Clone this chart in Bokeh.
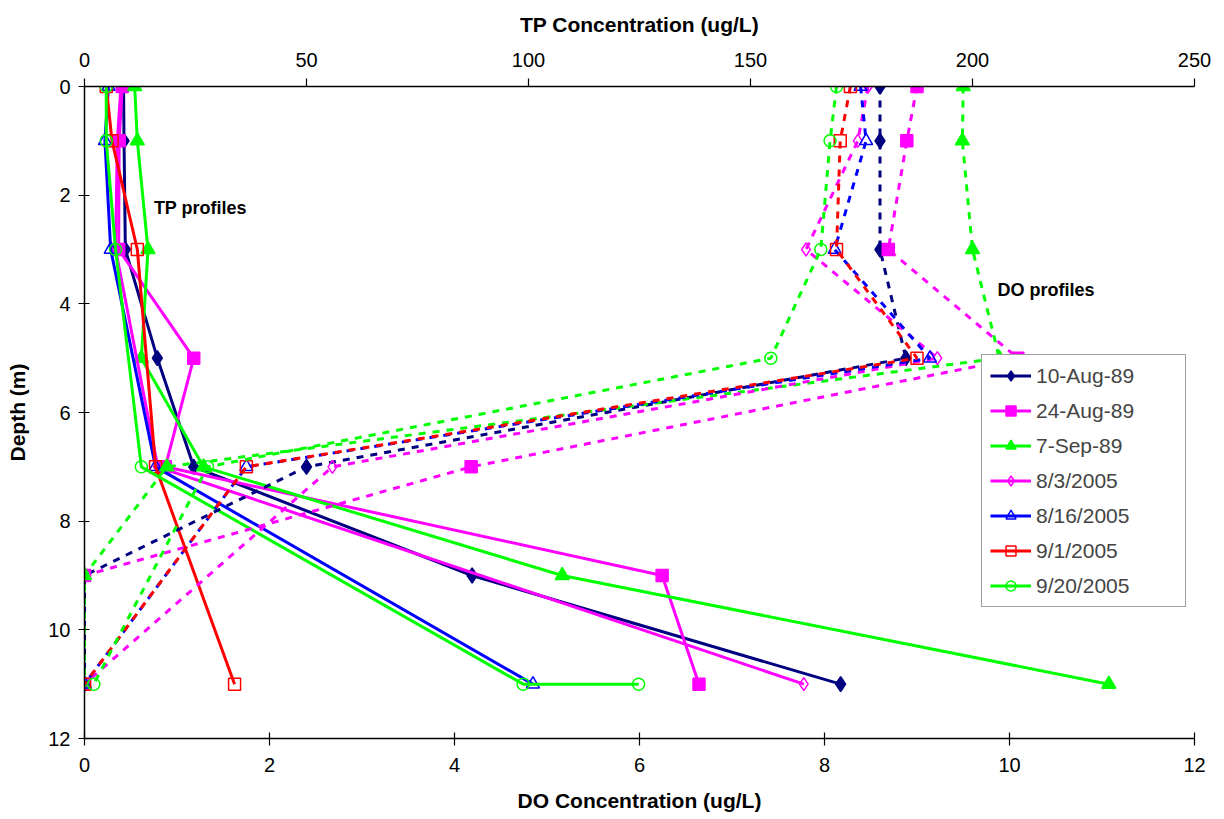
from bokeh.plotting import figure
from bokeh.models import Range1d, LinearAxis, FixedTicker, Label, Legend, LegendItem
from bokeh.embed import file_html
from bokeh.resources import INLINE

# ---------------- data ----------------
series_names = ["10-Aug-89", "24-Aug-89", "7-Sep-89", "8/3/2005", "8/16/2005", "9/1/2005", "9/20/2005"]

# TP profiles (top axis, ug/L)
tp_depth_1989 = [0, 1, 3, 5, 7, 9, 11]
tp_10aug89 = [8.8, 8.9, 9.2, 16.4, 24.6, 87.3, 170.3]
tp_24aug89 = [8.5, 7.8, 7.7, 24.6, 18.2, 130.1, 138.4]
tp_7sep89 = [11.3, 11.9, 14.3, 12.8, 26.8, 107.6, 230.7]
tp_depth_2005 = [0, 1, 3, 7, 11]
tp_8mar05 = [8.2, 7.4, 7.0, 16.5, 162.0]
tp_16aug05 = [5.4, 4.6, 5.9, 16.0, 101.0]
tp_1sep05 = [4.9, 6.2, 11.9, 16.0, 33.8]
tp_depth_20sep05 = [0, 1, 3, 7, 11, 11]
tp_20sep05 = [4.9, 4.9, 7.0, 12.8, 98.8, 124.8]

# DO profiles (bottom axis)
do_depth_1989 = [0, 1, 3, 5, 7, 9, 11]
do_10aug89 = [8.6, 8.6, 8.6, 8.88, 2.4, 0, 0]
do_24aug89 = [9.0, 8.89, 8.69, 10.09, 4.18, 0, 0]
do_7sep89 = [9.5, 9.49, 9.6, 9.89, 0.89, 0, 0]
do_depth_2005 = [0, 1, 3, 5, 7, 11]
do_8mar05 = [8.47, 8.36, 7.8, 9.22, 2.68, 0]
do_16aug05 = [8.39, 8.45, 8.11, 9.14, 1.75, 0]
do_1sep05 = [8.28, 8.17, 8.13, 9.0, 1.75, 0]
do_20sep05 = [8.13, 8.06, 7.96, 7.42, 1.33, 0.1]

do_ticks = [0, 2, 4, 6, 8, 10, 12]
tp_ticks = [0, 50, 100, 150, 200, 250]
depth_ticks = [0, 2, 4, 6, 8, 10, 12]

# ---------------- styles ----------------
FONT = "Liberation Sans"
styles = [
    dict(color="#000080", marker="diamond", size=15, filled=True),
    dict(color="#FF00FF", marker="square", size=12, filled=True),
    dict(color="#00FF00", marker="triangle", size=14, filled=True),
    dict(color="#FF00FF", marker="diamond", size=13, filled=False),
    dict(color="#0000FF", marker="triangle", size=13, filled=False),
    dict(color="#FF0000", marker="square", size=12, filled=False),
    dict(color="#00FF00", marker="circle", size=12, filled=False),
]

tp_series = [
    (tp_depth_1989, tp_10aug89), (tp_depth_1989, tp_24aug89), (tp_depth_1989, tp_7sep89),
    (tp_depth_2005, tp_8mar05), (tp_depth_2005, tp_16aug05), (tp_depth_2005, tp_1sep05),
    (tp_depth_20sep05, tp_20sep05),
]
do_series = [
    (do_depth_1989, do_10aug89), (do_depth_1989, do_24aug89), (do_depth_1989, do_7sep89),
    (do_depth_2005, do_8mar05), (do_depth_2005, do_16aug05), (do_depth_2005, do_1sep05),
    (do_depth_2005, do_20sep05),
]

p = figure(width=1224, height=819, output_backend="svg", toolbar_location=None,
           x_range=Range1d(0, 12), y_range=Range1d(12, 0),
           min_border_left=84, min_border_right=30, min_border_top=86, min_border_bottom=81)
p.extra_x_ranges = {"tp": Range1d(0, 250)}
p.xgrid.visible = False
p.ygrid.visible = False
p.outline_line_color = None
p.background_fill_color = "white"


def marker(xr, xs, ys, st):
    kw = dict(marker=st["marker"], size=st["size"], line_color=st["color"], line_width=1.5)
    kw["fill_color"] = st["color"] if st["filled"] else None
    if xr:
        kw["x_range_name"] = xr
    return p.scatter(xs, ys, **kw)


items = []
for name, (dep, vals), st in zip(series_names, tp_series, styles):
    l = p.line(vals, dep, line_color=st["color"], line_width=3, x_range_name="tp")
    m = marker("tp", vals, dep, st)
    items.append(LegendItem(label=name, renderers=[l, m]))

for (dep, vals), st in zip(do_series, styles):
    p.line(vals, dep, line_color=st["color"], line_width=3, line_dash="7 7")
    marker(None, vals, dep, st)

# ---------------- axes ----------------
tick_font = "20px"
title_font = "21px"

bx = p.xaxis[0]
bx.ticker = FixedTicker(ticks=do_ticks)
bx.axis_label = "DO Concentration (ug/L)"
bx.major_tick_in = 6
bx.major_tick_out = 7
bx.minor_tick_line_color = None
bx.major_label_standoff = 12
bx.axis_label_standoff = 14

ly = p.yaxis[0]
ly.ticker = FixedTicker(ticks=depth_ticks)
ly.axis_label = "Depth (m)"
ly.major_tick_in = 5
ly.major_tick_out = 6
ly.minor_tick_line_color = None
ly.major_label_standoff = 8
ly.axis_label_standoff = 16

tx = LinearAxis(x_range_name="tp", ticker=FixedTicker(ticks=tp_ticks),
                axis_label="TP Concentration (ug/L)")
tx.major_tick_in = 0
tx.major_tick_out = 8
tx.minor_tick_line_color = None
tx.major_label_standoff = 12
tx.axis_label_standoff = 14
p.add_layout(tx, "above")

for ax in (bx, ly, tx):
    ax.axis_line_color = "black"
    ax.axis_line_width = 1.5
    ax.major_tick_line_color = "black"
    ax.major_tick_line_width = 1.2
    ax.major_label_text_font = FONT
    ax.major_label_text_font_size = tick_font
    ax.major_label_text_color = "black"
    ax.axis_label_text_font = FONT
    ax.axis_label_text_font_size = title_font
    ax.axis_label_text_font_style = "bold"
    ax.axis_label_text_color = "black"

# ---------------- annotations ----------------
p.add_layout(Label(x=0.75, y=2.23, text="TP profiles", text_font=FONT, text_font_size="18px",
                   text_font_style="bold", text_baseline="middle", text_color="black"))
p.add_layout(Label(x=9.87, y=3.75, text="DO profiles", text_font=FONT, text_font_size="18px",
                   text_font_style="bold", text_baseline="middle", text_color="black"))

legend = Legend(items=items, location=(897, 131), orientation="vertical",
                label_text_font=FONT, label_text_font_size="21px",
                glyph_width=41, glyph_height=25, label_height=25, label_width=141,
                label_standoff=5, spacing=10, padding=8, margin=0,
                border_line_color="#404040", border_line_width=1.2,
                background_fill_color="white", background_fill_alpha=1.0)
p.add_layout(legend)

open("out.html", "w").write(file_html(p, INLINE))
